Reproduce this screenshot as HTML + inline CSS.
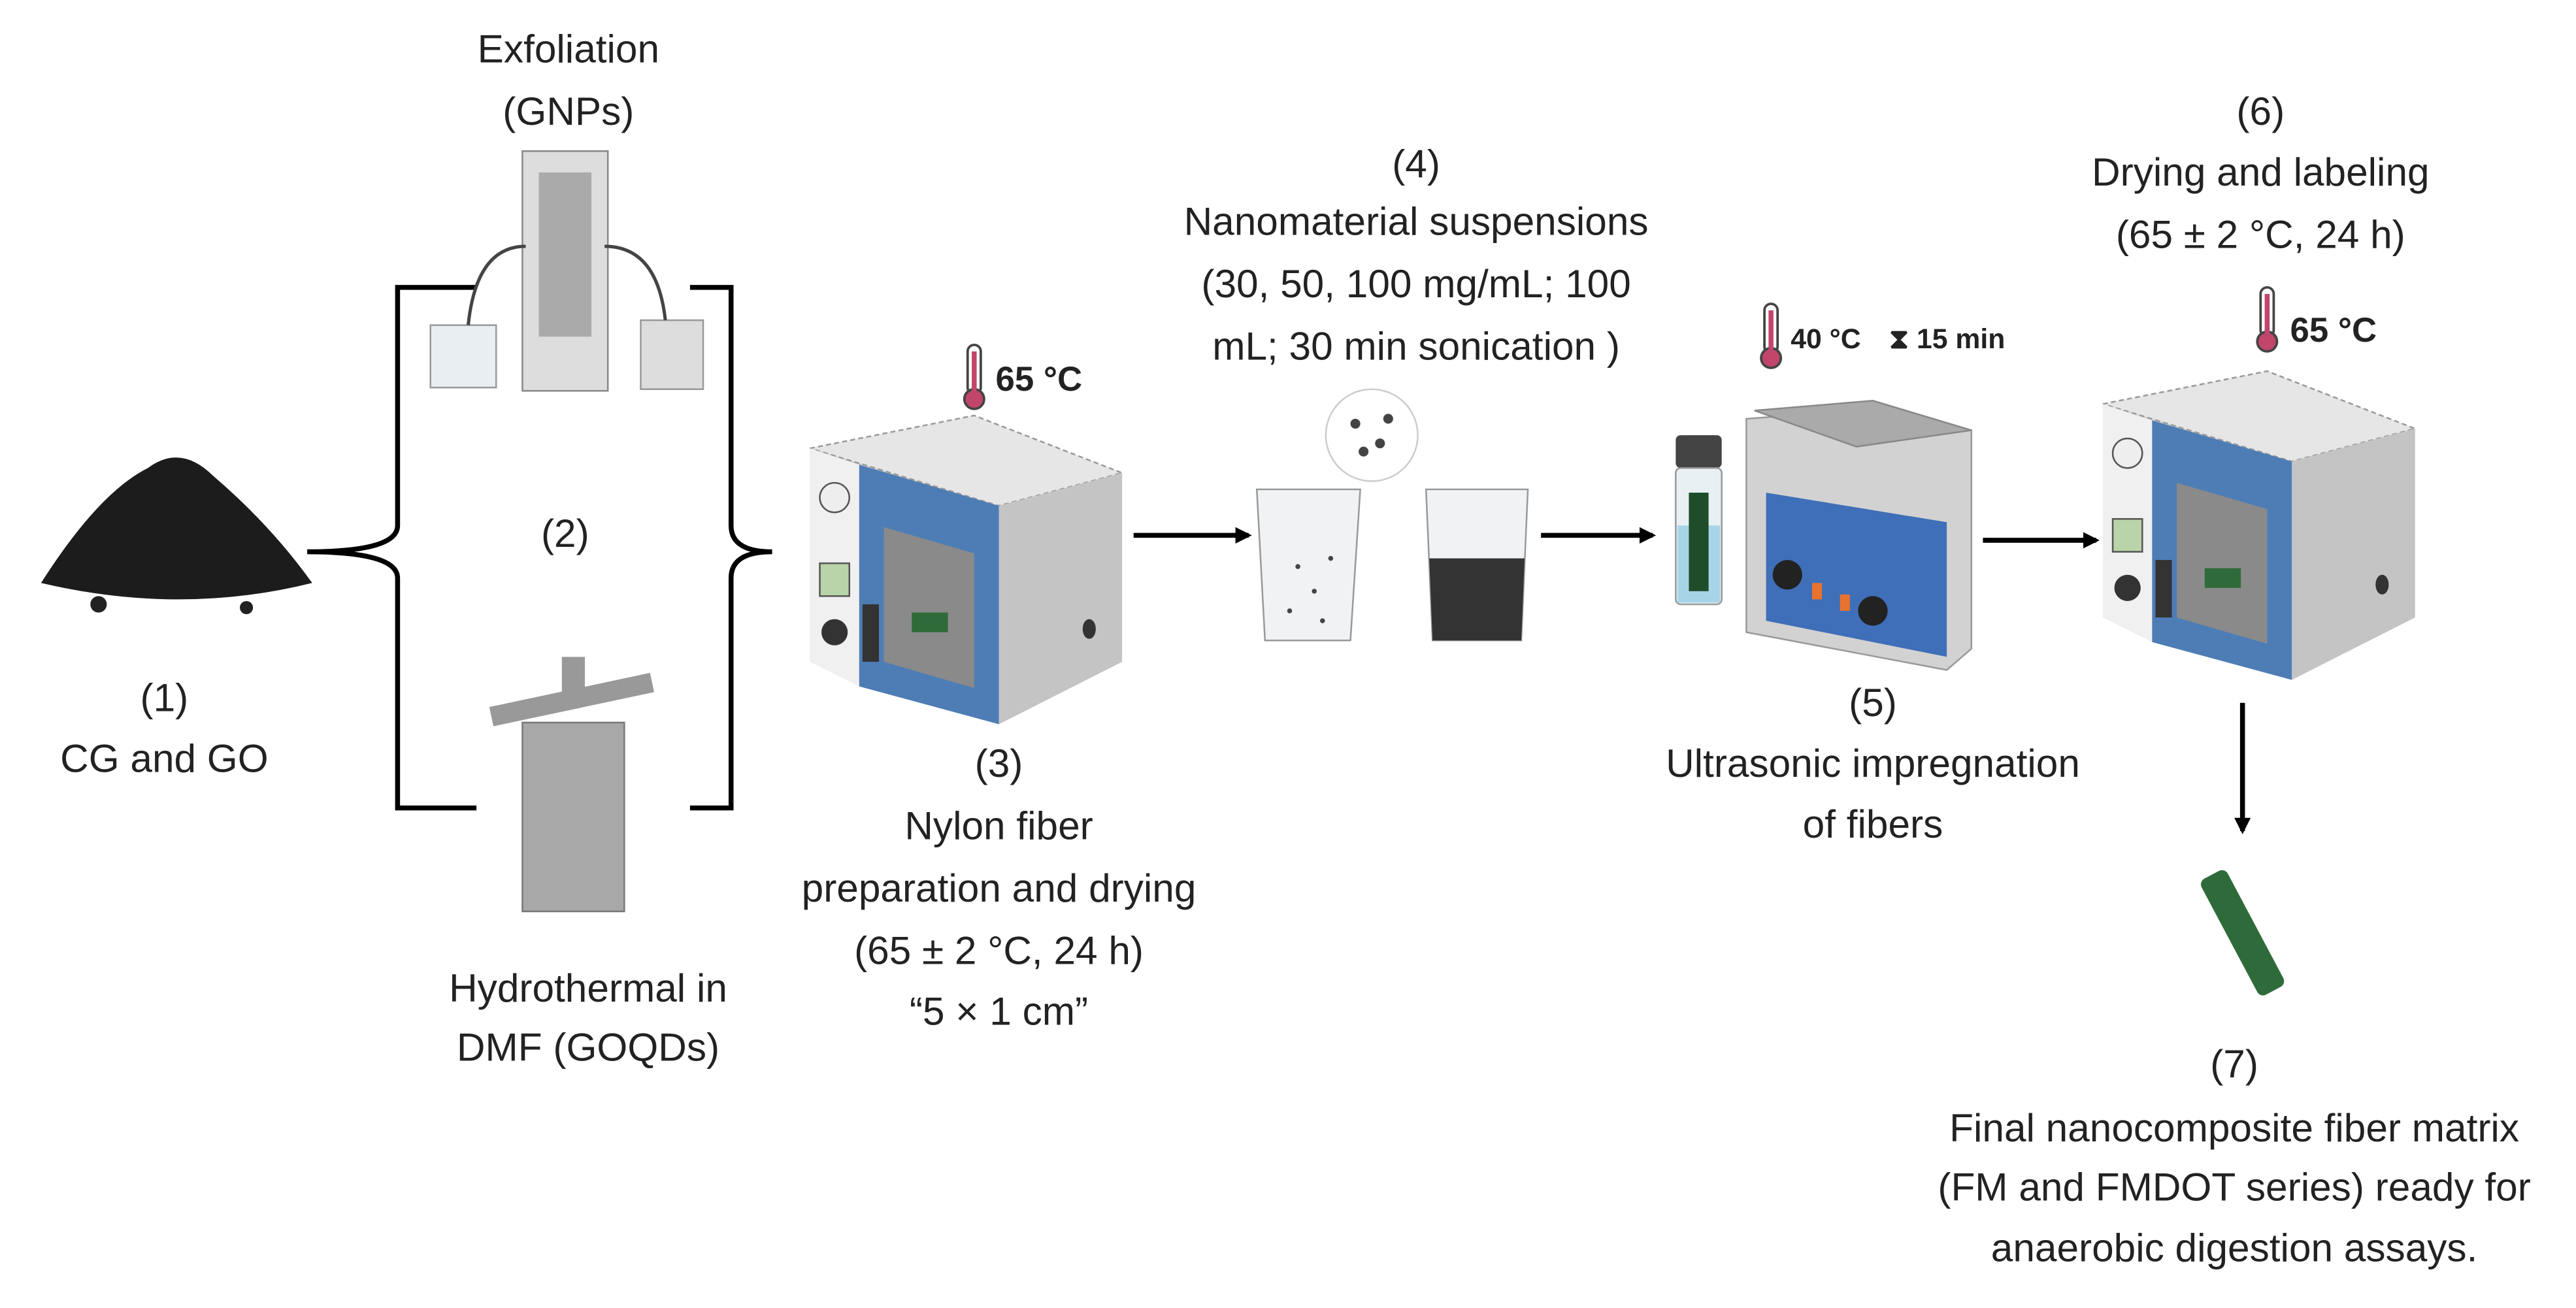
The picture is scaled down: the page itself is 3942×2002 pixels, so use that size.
<!DOCTYPE html>
<html><head><meta charset="utf-8"><style>
html,body{margin:0;padding:0;background:#fff;}
svg{display:block}
text{font-family:"Liberation Sans",sans-serif;fill:#222;font-size:24px;text-anchor:middle}
</style></head><body>
<svg width="3942" height="2002" viewBox="0 0 1568 796.5" preserveAspectRatio="none" xmlns="http://www.w3.org/2000/svg">
<defs>
<marker id="ah" markerWidth="10" markerHeight="10" refX="8" refY="5" orient="auto" markerUnits="userSpaceOnUse"><path d="M0,0 L10,5 L0,10 z" fill="#000"/></marker>
<g id="therm"><rect x="-4" y="-20" width="8" height="30" rx="4" fill="#fff" stroke="#444" stroke-width="1.5"/><circle cx="0" cy="13" r="6" fill="#c2456b" stroke="#444" stroke-width="1.5"/><rect x="-1.5" y="-16" width="3" height="26" fill="#c2456b"/></g>
<g id="oven">
<polygon points="0,20 100,0 190,35 190,150 115,188 0,150" fill="#c9c9c9"/>
<polygon points="0,20 100,0 190,35 115,55 0,20" fill="#e6e6e6" stroke="#999" stroke-dasharray="3,2"/>
<polygon points="115,55 190,35 190,150 115,188" fill="#c4c4c4"/>
<polygon points="0,20 30,30 30,165 0,150" fill="#f0f0f0"/>
<polygon points="30,30 115,55 115,188 30,165" fill="#4e7db5"/>
<polygon points="45,68 100,84 100,166 45,150" fill="#8a8a8a"/>
<circle cx="15" cy="50" r="9" fill="#eee" stroke="#555"/>
<rect x="6" y="90" width="18" height="20" fill="#b8d4a8" stroke="#555"/>
<circle cx="15" cy="132" r="8" fill="#333"/>
<rect x="32" y="115" width="10" height="35" fill="#333"/>
<ellipse cx="170" cy="130" rx="4" ry="6" fill="#333"/>
<rect x="62" y="120" width="22" height="12" fill="#2f6b3a"/>
</g>
</defs>
<!-- pile -->
<path d="M25,355 Q60,300 90,285 Q110,270 130,290 Q165,320 190,355 Q110,375 25,355z" fill="#1c1c1c"/>
<circle cx="60" cy="368" r="5" fill="#222"/><circle cx="150" cy="370" r="4" fill="#222"/>
<!-- brackets -->
<path d="M290,175 L242,175 L242,320 Q242,336 187,336 Q242,336 242,352 L242,492 L290,492" fill="none" stroke="#000" stroke-width="3"/>
<path d="M420,175 L445,175 L445,320 Q445,336 470,336 Q445,336 445,352 L445,492 L420,492" fill="none" stroke="#000" stroke-width="3"/>
<!-- exfoliation device -->
<rect x="318" y="92" width="52" height="146" fill="#ddd" stroke="#888"/>
<rect x="328" y="105" width="32" height="100" fill="#aaa"/>
<rect x="262" y="198" width="40" height="38" fill="#e8eef2" stroke="#999"/>
<rect x="390" y="195" width="38" height="42" fill="#ddd" stroke="#999"/>
<path d="M320,150 Q290,150 285,198 M368,150 Q400,150 405,195" stroke="#444" fill="none" stroke-width="2"/>
<!-- autoclave -->
<rect x="318" y="440" width="62" height="115" fill="#a8a8a8" stroke="#777"/>
<rect x="298" y="420" width="100" height="12" fill="#999" transform="rotate(-12 348 426)"/>
<rect x="342" y="400" width="14" height="30" fill="#999"/>
<!-- thermometers/labels -->
<use href="#therm" x="593" y="230"/><text x="606" y="238" style="font-weight:bold;font-size:21px;text-anchor:start" fill="#333">65 °C</text>
<use href="#oven" transform="translate(493,253)"/>
<line x1="690" y1="326" x2="760" y2="326" stroke="#000" stroke-width="3" marker-end="url(#ah)"/>
<!-- beakers -->
<path d="M765,298 L828,298 L822,390 L770,390z" fill="#f0f2f4" stroke="#999"/>
<circle cx="790" cy="345" r="1.5" fill="#444"/><circle cx="800" cy="360" r="1.5" fill="#444"/><circle cx="785" cy="372" r="1.5" fill="#444"/><circle cx="810" cy="340" r="1.5" fill="#444"/><circle cx="805" cy="378" r="1.5" fill="#444"/>
<path d="M868,298 L930,298 L926,390 L872,390z" fill="#f0f2f4" stroke="#999"/>
<path d="M870,340 L928,340 L926,390 L872,390z" fill="#333"/>
<circle cx="835" cy="265" r="28" fill="#fff" stroke="#ccc"/>
<circle cx="825" cy="258" r="3" fill="#444"/><circle cx="840" cy="270" r="3" fill="#444"/><circle cx="845" cy="255" r="3" fill="#444"/><circle cx="830" cy="275" r="3" fill="#444"/>
<line x1="938" y1="326" x2="1006" y2="326" stroke="#000" stroke-width="3" marker-end="url(#ah)"/>
<!-- vial & bath -->
<rect x="1020" y="265" width="28" height="20" fill="#444" rx="3"/>
<rect x="1020" y="285" width="28" height="83" fill="#e8f0f4" stroke="#999" rx="3"/>
<rect x="1021" y="320" width="26" height="47" fill="#a8d4e8"/>
<rect x="1028" y="300" width="12" height="60" fill="#1f4d2a"/>
<use href="#therm" x="1078" y="205"/><text x="1090" y="212" style="font-size:17px;font-weight:bold;text-anchor:start" fill="#333">40 °C</text>
<text x="1150" y="212" style="font-size:17px;font-weight:bold;text-anchor:start" fill="#333">⧗ 15 min</text>
<polygon points="1063,255 1130,250 1200,262 1200,395 1185,408 1063,385" fill="#d2d2d2" stroke="#999"/>
<polygon points="1068,250 1140,244 1200,262 1130,272" fill="#aaa" stroke="#888"/>
<polygon points="1075,300 1185,318 1185,400 1075,378" fill="#3f6fb8"/>
<circle cx="1088" cy="350" r="9" fill="#222"/><circle cx="1140" cy="372" r="9" fill="#222"/>
<rect x="1103" y="355" width="6" height="10" fill="#e8732e"/><rect x="1120" y="362" width="6" height="10" fill="#e8732e"/>
<line x1="1207" y1="329" x2="1276" y2="329" stroke="#000" stroke-width="3" marker-end="url(#ah)"/>
<use href="#therm" x="1380" y="195"/><text x="1394" y="208" style="font-weight:bold;font-size:21px;text-anchor:start" fill="#333">65 °C</text>
<use href="#oven" transform="translate(1280,226)"/>
<line x1="1365" y1="428" x2="1365" y2="506" stroke="#000" stroke-width="3" marker-end="url(#ah)"/>
<rect x="1356" y="528" width="18" height="80" rx="4" fill="#2f6b3a" transform="rotate(-28 1365 568)"/>
<!-- text -->
<text x="346" y="38">Exfoliation</text><text x="346" y="76">(GNPs)</text>
<text x="344" y="333">(2)</text>
<text x="100" y="433">(1)</text><text x="100" y="470">CG and GO</text>
<text x="358" y="610">Hydrothermal in</text><text x="358" y="646">DMF (GOQDs)</text>
<text x="608" y="473">(3)</text><text x="608" y="511">Nylon fiber</text><text x="608" y="549">preparation and drying</text><text x="608" y="587">(65 ± 2 °C, 24 h)</text><text x="608" y="624">“5 × 1 cm”</text>
<text x="862" y="108">(4)</text><text x="862" y="143">Nanomaterial suspensions</text><text x="862" y="181">(30, 50, 100 mg/mL; 100</text><text x="862" y="219">mL; 30 min sonication )</text>
<text x="1140" y="436">(5)</text><text x="1140" y="473">Ultrasonic impregnation</text><text x="1140" y="510">of fibers</text>
<text x="1376" y="76">(6)</text><text x="1376" y="113">Drying and labeling</text><text x="1376" y="151">(65 ± 2 °C, 24 h)</text>
<text x="1360" y="656">(7)</text><text x="1360" y="695">Final nanocomposite fiber matrix</text><text x="1360" y="731">(FM and FMDOT series) ready for</text><text x="1360" y="768">anaerobic digestion assays.</text>
</svg>
</body></html>
